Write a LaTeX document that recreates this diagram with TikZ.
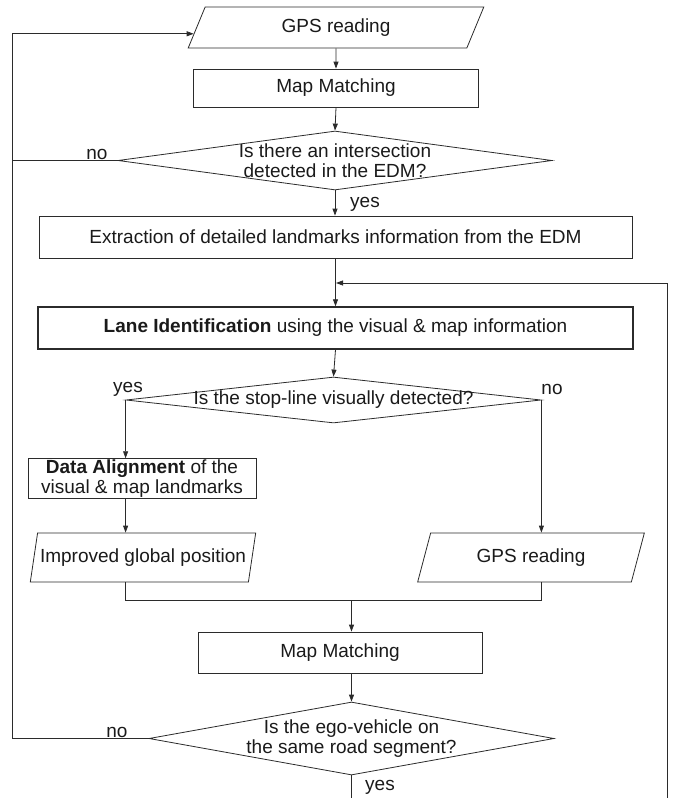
\documentclass[tikz,border=0pt]{standalone}
\usepackage{fontspec}
\setmainfont{Liberation Sans}
\usetikzlibrary{arrows.meta,shapes.geometric,calc}
\definecolor{flowline}{HTML}{2B2B2B}
\definecolor{flowtext}{HTML}{1A1A1A}

\begin{document}
\begin{tikzpicture}[x=1pt,y=-1pt,font=\fontsize{19}{20}\selectfont,text=flowtext,
proc/.style 2 args={draw=flowline,line width=.8pt,minimum width=#1,minimum height=#2,inner sep=1pt,align=center},
io/.style 2 args={draw=flowline,line width=.8pt,trapezium,trapezium left angle=70,trapezium right angle=110,trapezium stretches=true,minimum width=#1,minimum height=#2,inner sep=1pt,align=center},
query/.style 2 args={draw=flowline,line width=.8pt,diamond,inner sep=0pt,minimum width=#1,minimum height=#2},
arrow/.style={-{Triangle[length=7pt,width=5pt]},line width=.8pt,draw=flowline},
link/.style={line width=.8pt,draw=flowline}]
\useasboundingbox (0,0) rectangle (677,798);
\node[io={296pt}{41pt}] (gps1) at (336,27.5) {GPS reading};
\node[proc={285pt}{38pt}] (map1) at (336,88) {Map Matching};
\node[query={434pt}{59pt},label={[align=center]center:Is there an intersection\\detected in the EDM?}] (dec1) at (335,160.5) {};
\node[proc={593pt}{42pt}] (extr) at (335.5,237) {Extraction of detailed landmarks information from the EDM};
\node[proc={595pt}{42pt},line width=1.4pt] (lane) at (335.5,328) {\textbf{Lane Identification} using the visual \& map information};
\node[query={415pt}{46pt},label={center:Is the stop-line visually detected?}] (dec2) at (333.5,400) {};
\node[proc={228pt}{39pt}] (align) at (142,478.5) {\textbf{Data Alignment} of the\\visual \& map landmarks};
\node[io={226pt}{49pt}] (impr) at (143,557.5) {Improved global position};
\node[io={227pt}{49pt}] (gps2) at (531,557.5) {GPS reading};
\node[proc={284pt}{41pt}] (map2) at (340,652.5) {Map Matching};
\node[query={405pt}{73pt},label={[align=center]center:Is the ego-vehicle on\\the same road segment?}] (dec3) at (351.5,738.5) {};
% branch labels
\node (no1) at (97,154) {no};
\node (yes1) at (365,204) {yes};
\node (yes2) at (128,389) {yes};
\node (no2) at (552,389) {no};
\node (no3) at (117,732) {no};
\node (yes3) at (380,787) {yes};
% rails and joins
\coordinate (leftrail) at (12,0);
\coordinate (merge) at (336,283);
\coordinate (rightend) at (667,798);
\coordinate (joinrow) at (0,600);
\coordinate (dec3out) at (351.5,798);
\draw[arrow] (gps1.south) -- (map1.north);
\draw[arrow] (map1.south) -- (dec1.north);
\draw[arrow] (dec1.south) -- (dec1.south |- extr.north);
\draw[arrow] (extr.south) -- (extr.south |- lane.north);
\draw[arrow] (rightend) |- (merge);
\draw[arrow] (lane.south) -- (dec2.north);
\draw[arrow] (dec2.west) -- (dec2.west |- align.north);
\draw[arrow] (dec2.west |- align.south) -- (dec2.west |- impr.north);
\draw[arrow] (dec2.east) -- (dec2.east |- gps2.north);
\draw[link] (dec2.west |- impr.south) |- (dec2.east |- joinrow) -- (dec2.east |- gps2.south);
\draw[arrow] (dec3.north |- joinrow) -- (dec3.north |- map2.north);
\draw[arrow] (dec3.north |- map2.south) -- (dec3.north);
\draw[link] (dec3.south) -- (dec3out);
\draw[link] (dec1.west) -- (dec1.west -| leftrail);
\draw[arrow] (dec3.west) -- (dec3.west -| leftrail) |- ($(gps1.bottom left corner)!.35!(gps1.top left corner)$);
\end{tikzpicture}
\end{document}
